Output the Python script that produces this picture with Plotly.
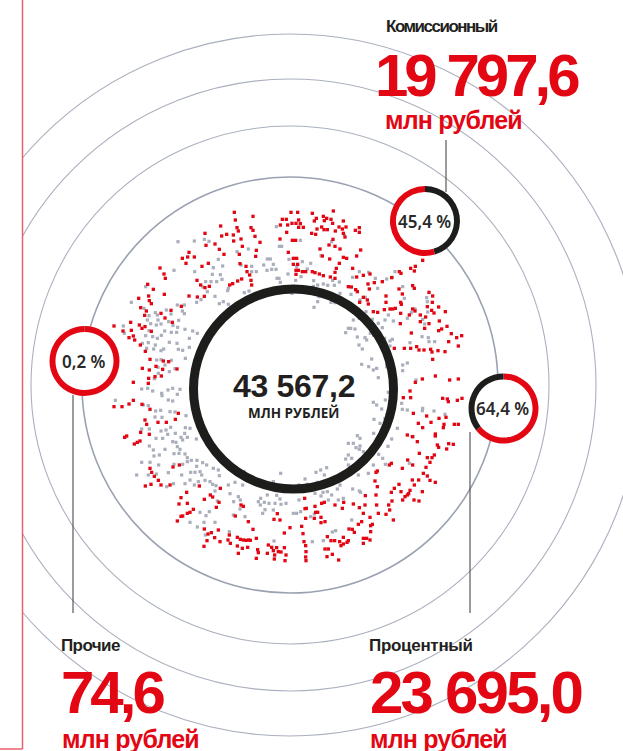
import plotly.graph_objects as go

W, H = 623, 751
RED = "#e30613"
BLACK = "#1d1d1b"
TXT = "#231f20"
RING = "#aab0be"
DOTGRAY = "#a9aebb"
BOLDF = "Liberation Sans, Arial, sans-serif"
SANS = "Open Sans, Noto Sans, sans-serif"

# ---------------- data ----------------
total_value = "43 567,2"
total_unit = "МЛН РУБЛЕЙ"
categories = ["Комиссионный", "Прочие", "Процентный"]
amounts = ["19 797,6", "74,6", "23 695,0"]
unit_label = "млн рублей"
share_labels = ["45,4 %", "0,2 %", "64,4 %"]
# donut slices (clockwise from 12 o'clock)
donut_values = [[45.4, 54.6], [0.2, 99.8], [64.4, 35.6]]
donut_colors = [[BLACK, RED], [BLACK, RED], [RED, BLACK]]

# decorative dot field (tile origin, 3x coords)
dot_tiles = [
    ((100, 205),
     [(362,63),(315,85),(365,93),(318,121),(345,117),(358,133),(372,148),(267,142),(283,156),(263,156),
      (247,160),(258,175),(325,175),(306,184),(180,189),(192,207),(196,220),(291,226),(302,240),(315,248),
      (328,244),(143,238),(160,253),(193,268),(267,273),(292,276),(313,274),(116,280),(146,273),(148,287),
      (154,296),(122,308),(139,318),(213,316),(244,304),(134,331),(183,325),(195,339),(92,352),(217,352),
      (42,363),(118,360),(135,365),(126,370),(69,378),(94,376),(154,379),(87,398),(104,405),(100,393),
      (121,420),(136,439),(190,468),(206,470),(150,463),(127,490),(148,495),(188,493),(231,492),(165,515),
      (184,513),(146,520),(100,532),(145,535),(168,484)],
     [(234,110),(283,108),(313,103),(327,109),(355,163),(340,188),(368,183),(361,209),(337,208),(222,196),
      (284,200),(317,230),(333,230),(350,230),(366,223),(309,246),(322,260),(345,274),(358,296),(370,290),
      (303,284),(290,292),(137,245),(94,292),(132,310),(166,323),(172,330),(199,315),(213,327),(232,300),
      (253,300),(247,318),(253,326),(147,332),(142,345),(174,345),(183,357),(206,350),(236,346),(219,361),
      (233,367),(152,356),(169,360),(194,378),(214,382),(230,382),(147,377),(70,363),(73,385),(137,392),
      (158,395),(172,400),(184,391),(255,373),(278,378),(292,385),(268,400),(127,415),(145,413),(166,420),
      (191,432),(208,412),(231,415),(248,436),(235,433),(268,427),(161,432),(140,430),(183,437),(183,464),
      (170,465),(195,480),(214,466),(256,460),(174,487),(175,505),(208,500),(163,521),(225,491)]),
    ((225, 205),
     [(28,22),(84,34),(31,45),(36,68),(40,78),(78,68),(84,76),(5,88),(25,90),(90,94),(48,102),(105,112),
      (26,108),(52,124),(94,136),(43,148),(92,154),(45,176),(63,184),(66,200),(74,210),(50,222),(38,228),
      (23,236),(14,240),(80,240),(78,226),(198,22),(218,22),(262,25),(325,18),(172,43),(184,43),(221,45),
      (274,40),(295,34),(305,40),(318,43),(268,48),(298,47),(355,48),(201,55),(213,55),(226,56),(166,60),
      (188,60),(221,67),(235,67),(276,72),(290,66),(297,74),(307,74),(323,55),(342,66),(352,72),(363,66),
      (185,82),(260,85),(272,88),(331,78),(355,85),(360,96),(165,102),(202,106),(212,106),(324,103),
      (190,142),(312,120),(330,124),(345,132),(285,132),(292,153),(314,162),(343,175),(355,157),(365,160),
      (205,160),(215,160),(205,178),(218,178),(334,190),(330,202),(316,216),(330,220),(213,196),(220,196),
      (232,200),(242,200),(262,200),(270,203),(283,207),(295,212),(213,208),(370,245)],
     [(154,65),(226,106),(358,90),(163,124),(170,124),(70,132),(36,140),(127,162),(136,162),(116,180),
      (48,180),(80,184),(145,178),(126,196),(140,193),(153,193),(192,163),(232,170),(257,175),(215,185),
      (247,192),(80,200),(94,200),(189,207),(228,215),(156,220),(162,220),(166,232),(212,226),(288,152),
      (320,110),(323,226),(308,241),(328,241),(343,231),(266,227),(295,237),(265,244),(278,240),(10,250),
      (8,257),(58,263),(72,258),(201,265),(282,275),(313,277),(330,273),(345,265),(318,292),(330,293),
      (345,296),(278,290),(267,307),(10,298),(362,383),(370,370)]),
    ((350, 205),
     [(16,76),(28,68),(28,82),(20,153),(32,135),(8,190),(20,216),(40,211),(60,207),(97,230),(125,218),
      (148,200),(153,205),(182,190),(196,184),(218,166),(193,198),(4,246),(17,254),(22,260),(54,237),
      (73,233),(58,252),(188,242),(193,250),(108,273),(147,252),(40,277),(52,285),(29,292),(55,297),
      (108,292),(152,292),(157,267),(237,262),(248,273),(247,292),(232,305),(266,306),(286,320),(154,298),
      (70,320),(83,322),(103,314),(120,312),(128,312),(136,310),(152,325),(178,330),(188,312),(195,318),
      (227,336),(245,316),(252,324),(211,330),(268,348),(211,350),(237,356),(291,364),(224,370),(266,377),
      (275,372),(304,386),(320,398),(335,392),(296,410),(325,423),(285,440),(264,437),(242,433),(246,441),
      (222,435),(200,425),(207,435),(182,430),(163,430),(133,430),(72,390),(151,356),(184,384),(248,463),
      (256,513),(217,522),(196,532),(299,525),(325,522)],
     [(8,217),(28,200),(56,202),(76,220),(83,250),(110,222),(127,217),(135,200),(158,245),(163,280),
      (3,268),(30,285),(46,277),(12,322),(48,320),(67,343),(105,345),(115,330),(130,348),(85,355),(97,368),
      (10,345),(28,340),(2,370),(15,372),(61,385),(22,396),(45,398),(50,405),(37,432),(27,420),(104,400),
      (120,408),(127,403),(180,413),(108,420),(120,423),(216,395),(235,398),(237,410),(254,410),(230,278),
      (232,290),(233,321),(218,343),(224,357),(195,312),(184,323),(172,340),(65,462),(35,478),(56,485),
      (70,495),(80,490),(110,485),(110,477),(158,480),(158,497),(172,474),(85,518),(198,525)]),
    ((100, 385),
     [(42,65),(66,65),(87,57),(100,46),(126,58),(150,73),(135,105),(140,118),(174,112),(199,112),
      (226,103),(235,85),(122,142),(148,148),(74,157),(80,153),(103,177),(112,172),(120,168),(150,250),
      (155,262),(163,274),(175,286),(136,303),(153,298),(183,300),(210,300),(219,246),(238,240),(298,303),
      (260,322),(243,338),(331,330),(338,336),(313,343),(237,357),(262,355),(280,373),(270,382),(262,385),
      (248,393),(243,394),(232,408),(349,367),(357,352),(361,310),(313,432),(324,447),(334,443),(355,435),
      (344,458),(321,467),(312,484),(360,470)],
     [(185,25),(240,13),(218,10),(204,15),(158,18),(143,10),(125,12),(186,32),(205,45),(218,48),(232,28),
      (46,46),(145,62),(130,60),(167,78),(182,76),(210,80),(225,81),(258,92),(186,97),(165,96),(212,127),
      (198,135),(183,138),(256,128),(270,130),(125,132),(148,132),(254,145),(226,145),(243,157),(203,148),
      (168,160),(188,160),(248,165),(262,157),(218,170),(228,172),(232,185),(289,162),(148,183),(160,195),
      (195,193),(240,193),(255,207),(262,218),(178,210),(162,213),(222,206),(237,205),(125,232),(150,232),
      (176,240),(222,238),(248,238),(262,230),(291,226),(274,226),(290,244),(308,233),(320,240),(110,270),
      (145,270),(169,267),(205,263),(245,270),(272,262),(285,262),(300,260),(305,270),(270,285),(295,290),
      (315,286),(330,290),(338,298),(348,302),(358,272),(340,250),(355,255),(200,305),(220,296),(255,296),
      (283,300),(345,318),(352,348),(300,382),(318,392),(328,380),(270,412),(292,426),(312,412),(345,412),
      (316,450)]),
    ((225, 385),
     [(48,360),(55,364),(31,393),(70,410),(84,433),(94,460),(37,457),(46,463),(55,465),(63,466),(71,465),
      (76,466),(13,450),(9,465),(16,475),(37,483),(52,490),(68,487),(40,505),(98,494),(100,503),(94,520),
      (130,480),(140,487),(155,488),(127,505),(145,497),(160,500),(168,501),(178,488),(183,510),(149,510),
      (180,527),(148,522),(157,386),(147,403),(165,405),(178,444),(195,428),(230,424),(237,470),(242,482),
      (243,500),(242,516),(243,527),(234,446),(240,371),(244,370),(242,400),(239,340),(270,364),(272,382),
      (278,382),(290,355),(298,352),(268,400),(288,397),(300,410),(288,413),(330,360),(356,352),(352,370),
      (307,455),(318,467),(329,467),(344,470),(355,457),(348,482),(355,477),(366,472),(370,467),(300,492),
      (310,492),(306,515),(322,508),(341,525),(372,432)],
     [(10,300),(15,326),(30,292),(53,300),(40,335),(26,350),(46,345),(57,260),(107,340),(100,350),
      (118,352),(132,355),(127,330),(155,331),(165,342),(150,355),(168,358),(183,355),(145,375),(120,374),
      (145,290),(167,265),(205,385),(215,385),(222,345),(227,380),(257,395),(268,387),(240,282),(247,298),
      (277,292),(300,290),(305,248),(287,255),(273,262),(298,270),(222,300),(262,305),(270,325),(294,322),
      (307,320),(320,330),(337,312),(345,300),(355,340),(340,345),(310,345),(288,333),(13,440),(25,390),
      (45,372),(60,395),(106,360),(113,385),(147,468),(262,470),(295,467),(322,441),(332,437),(362,222),
      (370,210),(370,240),(370,175)]),
    ((350, 385),
     [(180,18),(160,38),(182,38),(292,42),(295,50),(278,40),(322,46),(336,40),(190,85),(230,93),(267,100),
      (282,118),(288,97),(218,128),(205,115),(243,112),(313,118),(325,118),(256,147),(256,153),(280,128),
      (172,150),(187,155),(202,170),(262,180),(266,187),(296,176),(310,178),(290,192),(208,205),(232,218),
      (246,218),(253,210),(173,225),(188,240),(240,232),(228,247),(157,250),(118,240),(124,235),(82,258),
      (78,262),(220,265),(232,273),(240,286),(256,292),(187,285),(206,285),(193,300),(147,298),(133,310),
      (124,322),(153,320),(180,316),(176,326),(172,330),(165,335),(158,345),(192,345),(207,348),(217,320),
      (75,288),(82,305),(78,330),(46,332),(80,360),(28,368),(40,385),(45,360),(10,357),(116,360),(126,348),
      (119,375),(108,388),(85,385),(60,397),(130,405),(35,410),(25,418),(67,418),(62,422),(62,440),(13,442),
      (7,433),(40,460),(50,460),(60,465),(40,475)],
     [(115,22),(120,50),(106,45),(95,72),(80,60),(72,103),(70,52),(155,55),(172,75),(157,73),(218,70),
      (217,77),(252,78),(285,88),(110,90),(105,100),(90,115),(142,130),(71,145),(125,162),(190,155),(22,152),
      (30,160),(10,175),(18,188),(30,183),(28,193),(64,190),(114,184),(40,200),(5,220),(86,208),(98,220),
      (106,238),(70,240),(55,265),(25,270),(0,262),(178,235),(28,318),(32,322),(8,312),(5,405),(0,255)]),
]

# ---------------- layout geometry ----------------
ring_center = (290, 385)
ring_radii = [208, 259, 306, 351]
core_center = (293.5, 389)
core_r = 100
donut_centers = [(425, 221), (84.5, 361), (503.5, 408.5)]
donut_r = 35

def tile_points(tiles, idx):
    xs, ys = [], []
    for (ox, oy), red, gray in tiles:
        pts = red if idx == 0 else gray
        for zx, zy in pts:
            xs.append(ox + zx / 3.0)
            ys.append(oy + zy / 3.0)
    return xs, ys

fig = go.Figure()

gx, gy = tile_points(dot_tiles, 1)
rx, ry = tile_points(dot_tiles, 0)
fig.add_trace(go.Scatter(x=gx, y=gy, mode="markers", hoverinfo="skip",
                         marker=dict(symbol="square", size=3.2, color=DOTGRAY, line=dict(width=0))))
fig.add_trace(go.Scatter(x=rx, y=ry, mode="markers", hoverinfo="skip",
                         marker=dict(symbol="square", size=3.3, color=RED, line=dict(width=0))))

shapes = []
cx, cy = ring_center
for i, r in enumerate(ring_radii):
    shapes.append(dict(type="circle", xref="x", yref="y", x0=cx - r, x1=cx + r, y0=cy - r, y1=cy + r,
                       line=dict(color="#9aa1b1" if i == 0 else RING, width=1.6 if i == 0 else 1.1),
                       layer="below"))
# white cover left of the frame line
shapes.append(dict(type="rect", xref="x", yref="y", x0=-5, x1=22.5, y0=-5, y1=H + 5,
                   fillcolor="white", line=dict(width=0), layer="below"))
# white discs beneath the donuts
for (dx, dy) in donut_centers:
    shapes.append(dict(type="circle", xref="x", yref="y", x0=dx - donut_r, x1=dx + donut_r,
                       y0=dy - donut_r, y1=dy + donut_r, fillcolor="white", line=dict(width=0),
                       layer="below"))
# core ring
ccx, ccy = core_center
shapes.append(dict(type="circle", xref="x", yref="y", x0=ccx - core_r, x1=ccx + core_r,
                   y0=ccy - core_r, y1=ccy + core_r, line=dict(color=BLACK, width=9), layer="above"))
# frame line
shapes.append(dict(type="line", xref="x", yref="y", x0=22.5, x1=22.5, y0=0, y1=749,
                   line=dict(color="#e8606c", width=1.5), layer="above"))
shapes.append(dict(type="line", xref="x", yref="y", x0=0, x1=22.5, y0=749, y1=749,
                   line=dict(color="#e8606c", width=1.5), layer="above"))
# connector lines
for (x0, y0, y1) in [(446, 140, 192), (73, 395, 613), (470, 432, 613)]:
    shapes.append(dict(type="line", xref="x", yref="y", x0=x0, x1=x0, y0=y0, y1=y1,
                       line=dict(color="#4a4a4a", width=1.1), layer="above"))

# donuts as pies
for (dx, dy), vals, cols in zip(donut_centers, donut_values, donut_colors):
    fig.add_trace(go.Pie(values=vals, marker=dict(colors=cols, line=dict(width=0)),
                         hole=0.83, sort=False, direction="clockwise", rotation=0,
                         textinfo="none", hoverinfo="skip", showlegend=False,
                         domain=dict(x=[(dx - donut_r) / W, (dx + donut_r) / W],
                                     y=[1 - (dy + donut_r) / H, 1 - (dy - donut_r) / H])))

ann = []
def text(x, y, s, size, color, family, weight=700, xanchor="left", ls=0.0):
    if ls:
        s = '<span style="letter-spacing:%.1fpx">%s</span>' % (ls, s)
    ann.append(dict(x=x, y=y, xref="x", yref="y", text=s, showarrow=False, xanchor=xanchor,
                    yanchor="middle", font=dict(family=family, size=size, color=color, weight=weight)))

text(384, 26, categories[0], 17, TXT, BOLDF, ls=-1.5)
text(373, 75, amounts[0], 60, RED, BOLDF, ls=-4)
text(383, 120, unit_label, 25, RED, BOLDF, ls=-0.8)
text(59, 645, categories[1], 17, TXT, BOLDF, ls=-0.6)
text(59, 692, amounts[1], 60, RED, BOLDF, ls=-4)
text(60, 739, unit_label, 25, RED, BOLDF, ls=-0.8)
text(367, 645, categories[2], 17, TXT, BOLDF, ls=-0.3)
text(368, 692, amounts[2], 60, RED, BOLDF, ls=-2.8)
text(368, 739, unit_label, 25, RED, BOLDF, ls=-0.8)

text(core_center[0], 386, total_value, 32, TXT, BOLDF, 700, "center", ls=-0.3)
text(core_center[0], 413, total_unit, 13.5, TXT, SANS, 700, "center")
for (dx, dy), lab in zip(donut_centers, share_labels):
    text(dx - 1, dy, lab, 17, "#2a2a2a", "Noto Sans, Open Sans, sans-serif", 600, "center")

fig.update_layout(
    width=W, height=H, margin=dict(l=0, r=0, t=0, b=0),
    paper_bgcolor="white", plot_bgcolor="white", showlegend=False,
    xaxis=dict(range=[0, W], visible=False, fixedrange=True),
    yaxis=dict(range=[H, 0], visible=False, fixedrange=True),
    shapes=shapes, annotations=ann,
)

fig.write_html("out.html", config={"displayModeBar": False, "staticPlot": True},
               post_script="document.body.style.margin='0';")
